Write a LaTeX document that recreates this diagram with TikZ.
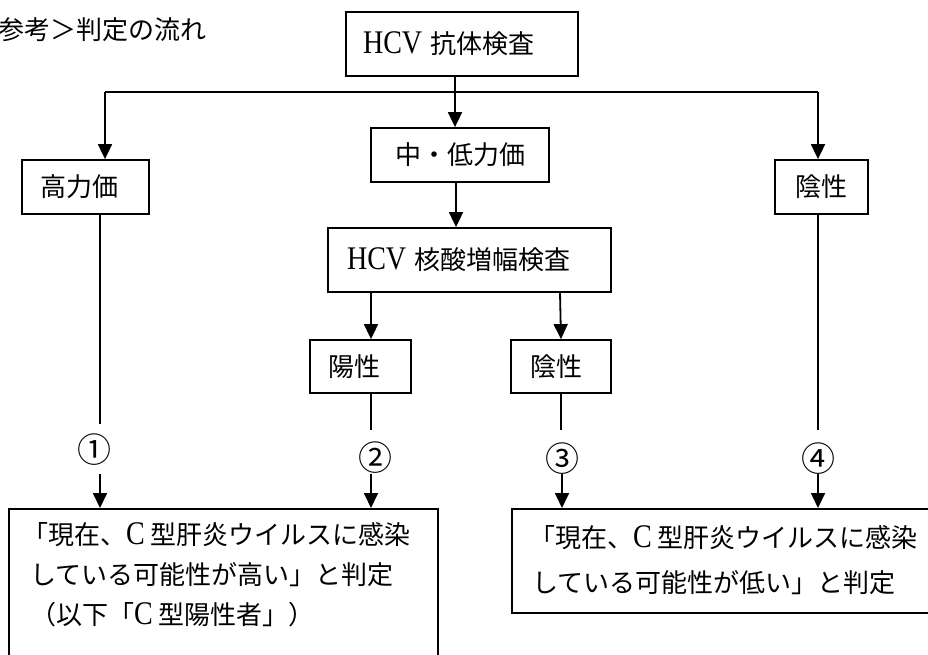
\documentclass[tikz,border=0pt]{standalone}
\usepackage{fontspec}
\setmainfont{Liberation Serif}[FakeStretch=0.85]
\newfontfamily\jp{Noto Sans CJK JP}
\usetikzlibrary{arrows.meta}
\newcommand\lt[1]{{\rmfamily\fontsize{33}{33}\selectfont #1}}
\begin{document}
\begin{tikzpicture}[x=1pt,y=-1pt,
  every node/.style={font=\jp\fontsize{26}{32}\selectfont, text=black},
  box/.style={draw, line width=1.8pt, inner sep=0pt, align=left},
  line/.style={inner sep=0pt, anchor=base west},
  num/.style={inner sep=0pt, font=\jp\fontsize{34}{34}\selectfont},
  link/.style={line width=1.8pt},
  arr/.style={line width=1.8pt, -{Triangle[width=14pt,length=15pt]}}]
\useasboundingbox (0,0) rectangle (928,655);
\clip (0,0) rectangle (928,655);
\fill[white] (0,0) rectangle (928,655);

% title
\node[inner sep=0pt, anchor=west] (title) at (-2,30) {参考＞判定の流れ};

% boxes
\node[box, minimum width=232, minimum height=64, text width=198] (hcv) at (462,44) {\lt{HCV}\hspace{8pt}抗体検査};
\node[box, minimum width=178, minimum height=54, align=center] (mid) at (460,155) {中・低力価};
\node[box, minimum width=127, minimum height=54, text width=91] (high) at (85.5,187) {高力価};
\node[box, minimum width=93, minimum height=54, align=center] (neg1) at (821.5,187) {陰性};
\node[box, minimum width=283, minimum height=64, text width=245] (nat) at (469.5,260) {\lt{HCV}\hspace{8pt}核酸増幅検査};
\node[box, minimum width=101, minimum height=53, text width=65] (pos) at (360.5,366.5) {陽性};
\node[box, minimum width=100, minimum height=53, text width=62] (neg2) at (561,366.5) {陰性};

% result boxes
\node[box, anchor=north west, minimum width=429, minimum height=180] (res1) at (8,508) {};
\node[line] (r1a) at (22,544) {「現在、\lt{C}\hspace{6pt}型肝炎ウイルスに感染};
\node[line] (r1b) at (30,584) {している可能性が高い」と判定};
\node[line] (r1c) at (30,624) {（以下「\lt{C}\hspace{6pt}型陽性者」）};

\node[box, anchor=north west, minimum width=460, minimum height=104] (res2) at (511,508) {};
\node[line] (r2a) at (529,547) {「現在、\lt{C}\hspace{6pt}型肝炎ウイルスに感染};
\node[line] (r2b) at (532,592) {している可能性が低い」と判定};

% circled numbers
\node[num] (n1) at (94,450) {①};
\node[num] (n2) at (375,458) {②};
\node[num] (n3) at (562,459) {③};
\node[num] (n4) at (818,459) {④};

% coordinates
\coordinate (bl) at (105,92);
\coordinate (br) at (818,92);
\coordinate (bm) at (455,92);
\coordinate (e1) at (100,424);
\coordinate (e2) at (371,430);
\coordinate (e3) at (561,430);
\coordinate (e4) at (818,430);
\coordinate (s1) at (100,474);
\coordinate (s2) at (371,474);
\coordinate (s3) at (562,474);
\coordinate (s4) at (818,474);

% connectors
\draw[link] (bl) -- (br);
\draw[arr] (bl) -- (bl |- high.north);
\draw[arr] (br) -- (br |- neg1.north);
\draw[arr] (hcv.south -| bm) -- (bm |- mid.north);
\draw[arr] ([xshift=-4pt]mid.south) -- ([xshift=-4pt]mid.south |- nat.north);
\draw[arr] (nat.south -| e2) -- (pos.north -| e2);
\draw[arr] (nat.south -| 560,0) -- (neg2.north -| e3);
\draw[link] (high.south -| e1) -- (e1);
\draw[link] (pos.south -| e2) -- (e2);
\draw[link] (neg2.south -| e3) -- (e3);
\draw[link] (neg1.south -| e4) -- (e4);
\draw[arr] (s1) -- (s1 |- res1.north);
\draw[arr] (s2) -- (s2 |- res1.north);
\draw[arr] (s3) -- (s3 |- res2.north);
\draw[arr] (s4) -- (s4 |- res2.north);
\end{tikzpicture}
\end{document}
